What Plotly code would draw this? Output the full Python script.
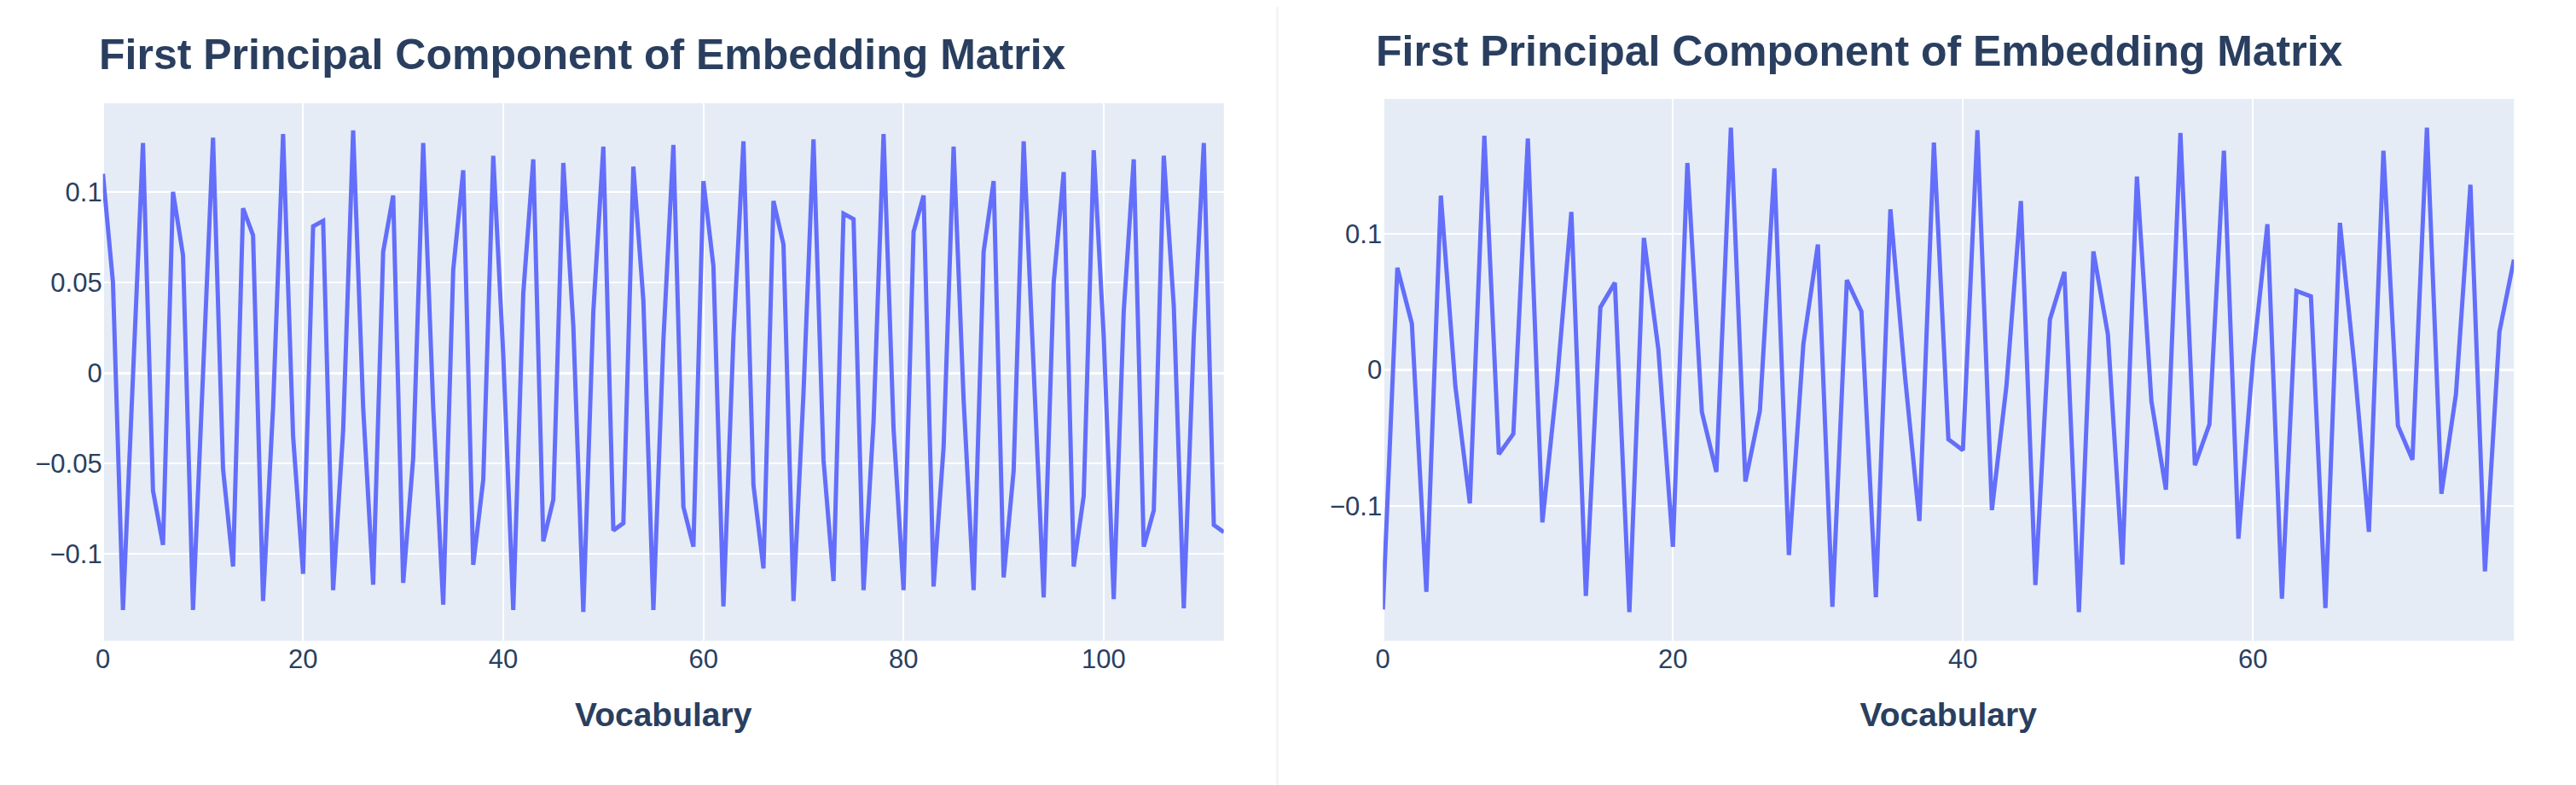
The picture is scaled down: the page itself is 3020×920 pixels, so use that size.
import plotly.graph_objects as go

left_x = list(range(113))
left_y = [0.110, 0.050, -0.131, -0.002, 0.127, -0.065, -0.095, 0.100, 0.065, -0.131,
          0.000, 0.130, -0.053, -0.107, 0.091, 0.076, -0.126, -0.019, 0.132, -0.035,
          -0.111, 0.081, 0.084, -0.120, -0.032, 0.134, -0.019, -0.117, 0.067, 0.098,
          -0.116, -0.047, 0.127, -0.019, -0.128, 0.057, 0.112, -0.106, -0.059, 0.120,
          0.010, -0.131, 0.044, 0.118, -0.093, -0.070, 0.116, 0.026, -0.132, 0.034,
          0.125, -0.087, -0.083, 0.114, 0.040, -0.131, 0.018, 0.126, -0.074, -0.096,
          0.106, 0.059, -0.129, 0.020, 0.128, -0.062, -0.108, 0.095, 0.071, -0.126,
          -0.011, 0.129, -0.048, -0.115, 0.088, 0.085, -0.120, -0.027, 0.132, -0.031,
          -0.120, 0.078, 0.098, -0.118, -0.041, 0.125, -0.015, -0.120, 0.067, 0.106,
          -0.113, -0.054, 0.128, 0.000, -0.124, 0.050, 0.111, -0.107, -0.068, 0.123,
          0.020, -0.125, 0.034, 0.118, -0.096, -0.076, 0.120, 0.037, -0.130, 0.020,
          0.127, -0.084, -0.088]

right_x = list(range(79))
right_y = [-0.176, 0.075, 0.034, -0.163, 0.128, -0.012, -0.098, 0.172, -0.062, -0.047,
           0.170, -0.112, -0.010, 0.116, -0.166, 0.046, 0.064, -0.178, 0.097, 0.015,
           -0.130, 0.152, -0.031, -0.075, 0.178, -0.082, -0.030, 0.148, -0.136, 0.019,
           0.092, -0.174, 0.066, 0.043, -0.167, 0.118, -0.004, -0.111, 0.167, -0.051,
           -0.059, 0.176, -0.103, -0.012, 0.124, -0.158, 0.037, 0.072, -0.178, 0.087,
           0.026, -0.143, 0.142, -0.023, -0.088, 0.174, -0.070, -0.040, 0.161, -0.124,
           0.007, 0.107, -0.168, 0.058, 0.054, -0.175, 0.108, 0.003, -0.119, 0.161,
           -0.041, -0.066, 0.178, -0.091, -0.018, 0.136, -0.148, 0.028, 0.081]

title_text = "First Principal Component of Embedding Matrix"
FONT = "Liberation Sans, Arial, sans-serif"
line = dict(color="#636efa", width=5)

W, H = 3020, 920
DX, DY = 17, 8  # compensation for page offset

def px(x):
    return (x - DX) / W

def py(y):
    return 1 - (y - DY) / H

fig = go.Figure()
fig.add_trace(go.Scatter(x=left_x, y=left_y, mode="lines", line=line, xaxis="x", yaxis="y", showlegend=False))
fig.add_trace(go.Scatter(x=right_x, y=right_y, mode="lines", line=line, xaxis="x2", yaxis="y2", showlegend=False))

tick = dict(size=31, color="#2a3f5f", family=FONT)
axt = dict(size=39, color="#2a3f5f", family=FONT)
common = dict(gridcolor="white", gridwidth=2, zeroline=True, zerolinecolor="white", zerolinewidth=3,
              tickfont=tick, showline=False, ticks="")

fig.update_layout(
    width=W, height=H,
    margin=dict(l=0, r=0, t=0, b=0),
    paper_bgcolor="white", plot_bgcolor="#E5ECF6",
    font=dict(family=FONT, color="#2a3f5f"),
    xaxis=dict(domain=[px(121), px(1439)], range=[0, 112], anchor="y", dtick=20,
               title=dict(text="<b>Vocabulary</b>", font=axt, standoff=34), **common),
    yaxis=dict(domain=[py(751), py(121)], range=[-0.148, 0.149], anchor="x",
               tickvals=[-0.1, -0.05, 0, 0.05, 0.1], ticktext=["−0.1", "−0.05", "0", "0.05", "0.1"],
               ticksuffix=" ", **common),
    xaxis2=dict(domain=[px(1626), px(2956)], range=[0, 78], anchor="y2", dtick=20,
                title=dict(text="<b>Vocabulary</b>", font=axt, standoff=34), **common),
    yaxis2=dict(domain=[py(751), py(116)], range=[-0.199, 0.199], anchor="x2",
                tickvals=[-0.1, 0, 0.1], ticktext=["−0.1", "0", "0.1"],
                ticksuffix=" ", **common),
    annotations=[
        dict(text="<b>" + title_text + "</b>", x=px(114), y=py(64), xref="paper", yref="paper",
             xanchor="left", yanchor="middle", showarrow=False, font=dict(size=50, color="#2a3f5f", family=FONT)),
        dict(text="<b>" + title_text + "</b>", x=px(1616), y=py(60), xref="paper", yref="paper",
             xanchor="left", yanchor="middle", showarrow=False, font=dict(size=50, color="#2a3f5f", family=FONT)),
    ],
    shapes=[dict(type="line", xref="paper", yref="paper", x0=px(1502), x1=px(1502), y0=0, y1=1,
                 line=dict(color="#f0f0f0", width=2))],
)

fig.write_html("out.html")
